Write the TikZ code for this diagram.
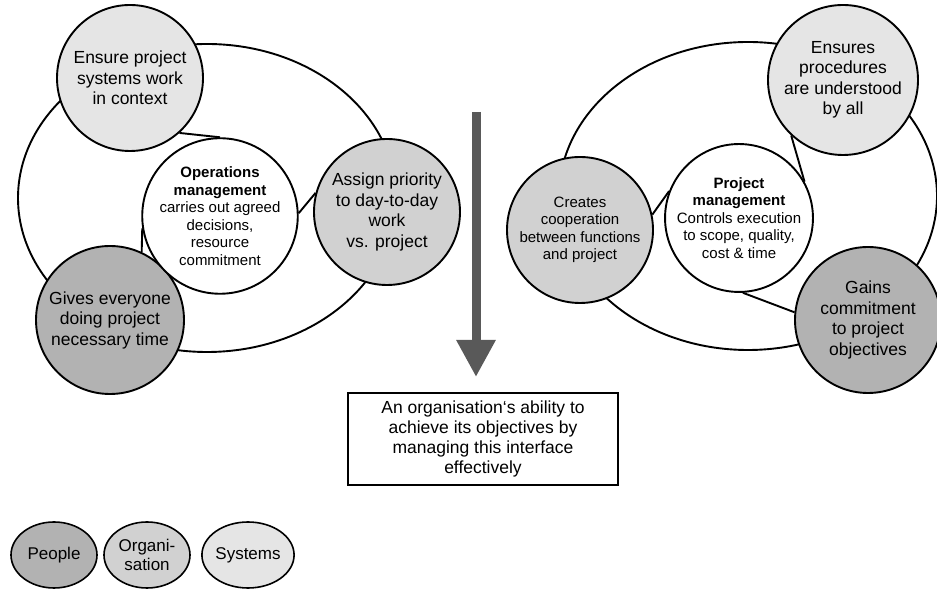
\documentclass[tikz,border=0pt]{standalone}
\usepackage{fontspec}
\setmainfont{Liberation Sans}
\usepackage{tikz}
\usetikzlibrary{arrows.meta,shapes.geometric}
\usepackage{xcolor}

\definecolor{peoplegray}{gray}{0.70}
\definecolor{orggray}{gray}{0.82}
\definecolor{sysgray}{gray}{0.90}
\definecolor{arrowgray}{gray}{0.35}

\tikzset{
  topic/.style={circle, draw, line width=1.9pt, inner sep=0pt, minimum size=146pt,
    align=center, font=\fontsize{17.5}{20.5}\selectfont},
  small/.style={font=\fontsize{15}{17.5}\selectfont},
  legend/.style={ellipse, draw, line width=1.6pt, inner sep=0pt, minimum width=86pt,
    minimum height=66pt, align=center, font=\fontsize{17}{19.5}\selectfont},
  ring/.style={line width=1.9pt},
}

\begin{document}
\begin{tikzpicture}[x=1pt,y=1pt]
\useasboundingbox (0,0) rectangle (937,591);

% operations side
\draw [ring] (207,393) ellipse [x radius=189, y radius=154];
\node [topic, fill=sysgray] (ensure) at (130,513) {Ensure project\\systems work\\in context};
\node [topic, fill=orggray] (assign) at (387,379) {Assign priority\\to day-to-day\\work\\vs. project};
\node [topic, fill=peoplegray, minimum size=148pt] (gives) at (110,271) {Gives everyone\\doing project\\necessary time};
\node [topic, small, fill=white] (ops) at (220,375) {\textbf{Operations}\\\textbf{management}\\carries out agreed\\decisions,\\resource\\commitment};
\draw [ring] (ensure.-48) -- (ops.90);
\draw [ring] (ops.2) -- (assign.165);
\draw [ring] (ops.189) -- (gives.65);

% project side
\draw [ring] (748,395) ellipse [x radius=189, y radius=154];
\node [topic, fill=sysgray, minimum size=150pt] (ensures) at (843,511) {Ensures\\procedures\\are understood\\by all};
\node [topic, small, fill=orggray] (creates) at (580,361) {Creates\\cooperation\\between functions\\and project};
\node [topic, small, fill=white] (pm) at (739,373) {\textbf{Project}\\\textbf{management}\\Controls execution\\to scope, quality,\\cost \& time};
\node [topic, fill=peoplegray] (gains) at (868,271) {Gains\\commitment\\to project\\objectives};
\draw [ring] (creates.12) -- (pm.159);
\draw [ring] (ensures.227) -- (pm.29);
\draw [ring] (pm.-87) -- (gains.174);

% result
\node [draw, line width=1.9pt, minimum width=270pt, minimum height=92pt, align=center,
  font=\fontsize{17.5}{20}\selectfont] (ability) at (483,152)
  {An organisation‘s ability to\\achieve its objectives by\\managing this interface\\effectively};
\coordinate (flowtop) at (476,479);
\coordinate (flowtip) at (476,214);
\draw [arrowgray, line width=9pt, -{Triangle[width=37pt,length=37pt]}] (flowtop) -- (flowtip);

% key
\node [legend, fill=peoplegray] (people) at (54,36) {People};
\node [legend, fill=orggray] (organisation) at (147,36) {Organi-\\sation};
\node [legend, fill=sysgray] (systems) at (248,36) {Systems};
\end{tikzpicture}
\end{document}
